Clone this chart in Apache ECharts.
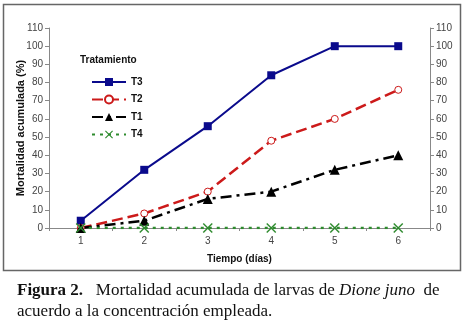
<!DOCTYPE html>
<html>
<head>
<meta charset="utf-8">
<script src="https://cdn.jsdelivr.net/npm/echarts@6/dist/echarts.min.js"></script>
<style>
  html, body { margin: 0; padding: 0; background: #fff; }
  #main { width: 465px; height: 323px; }
</style>
</head>
<body>
<div id="main"></div>
<script>
var dias = ['1', '2', '3', '4', '5', '6'];
var t3 = [4, 32, 56, 84, 100, 100];
var t2 = [0, 8, 20, 48, 60, 76];
var t1 = [0, 4, 16, 20, 32, 40];
var t4 = [0, 0, 0, 0, 0, 0];

var sans = 'Arial, "Liberation Sans", sans-serif';
var serif = '"Times New Roman", "Liberation Serif", serif';
var crossPath = 'path://M0,1L1,0L5,4L9,0L10,1L6,5L10,9L9,10L5,6L1,10L0,9L4,5Z';

var chart = echarts.init(document.getElementById('main'), null, {renderer: 'canvas'});

var yAxisBase = {
    type: 'value',
    min: 0,
    max: 110,
    interval: 10,
    splitLine: { show: false },
    axisLine: { show: true, lineStyle: { color: '#888', width: 1 } },
    axisTick: { show: true, length: 4, lineStyle: { color: '#888' } },
    axisLabel: { color: '#444', fontSize: 10, fontFamily: sans, margin: 6 }
};

var option = {
    animation: false,
    backgroundColor: '#fff',
    grid: { left: 49, right: 35, top: 28, bottom: 95 },
    legend: {
        orient: 'vertical',
        left: 86,
        top: 72,
        itemWidth: 34,
        itemHeight: 10,
        itemGap: 7.5,
        textStyle: { fontFamily: sans, fontSize: 10, fontWeight: 'bold', color: '#111' },
        data: ['T3', 'T2', 'T1', 'T4']
    },
    xAxis: {
        type: 'category',
        data: dias,
        boundaryGap: true,
        axisLine: { lineStyle: { color: '#888', width: 1 } },
        axisTick: { show: true, length: 3, lineStyle: { color: '#888' } },
        axisLabel: { color: '#444', fontSize: 10, fontFamily: sans, margin: 8 },
        name: 'Tiempo (días)',
        nameLocation: 'middle',
        nameGap: 26,
        nameTextStyle: { fontFamily: sans, fontSize: 10, fontWeight: 'bold', color: '#111' }
    },
    yAxis: [
        Object.assign({}, yAxisBase, {
            position: 'left',
            name: 'Mortalidad acumulada (%)',
            nameLocation: 'middle',
            nameGap: 23,
            nameMoveOverlap: false,
            nameTextStyle: { fontFamily: sans, fontSize: 11, fontWeight: 'bold', color: '#111' }
        }),
        Object.assign({}, yAxisBase, { position: 'right' })
    ],
    series: [
        {
            name: 'T3',
            type: 'line',
            data: t3,
            symbol: 'rect',
            symbolSize: 8,
            lineStyle: { color: '#0a0a8c', width: 2 },
            itemStyle: { color: '#0a0a8c' }
        },
        {
            name: 'T2',
            type: 'line',
            data: t2,
            symbol: 'circle',
            symbolSize: 7,
            lineStyle: { color: '#cc1a1a', width: 2.5, type: [11, 5] },
            itemStyle: { color: '#fff', borderColor: '#cc1a1a', borderWidth: 1 }
        },
        {
            name: 'T1',
            type: 'line',
            data: t1,
            symbol: 'triangle',
            symbolSize: 10,
            lineStyle: { color: '#000', width: 2.5, type: [11, 5, 3, 5] },
            itemStyle: { color: '#000' }
        },
        {
            name: 'T4',
            type: 'line',
            data: t4,
            symbol: crossPath,
            symbolSize: 10,
            lineStyle: { color: '#2e8b2e', width: 2.5, type: [3, 5] },
            itemStyle: { color: '#2e8b2e' }
        }
    ],
    graphic: [
        {
            type: 'rect',
            shape: { x: 3.5, y: 4.5, width: 457, height: 266 },
            style: { fill: 'none', stroke: '#666', lineWidth: 1.5 },
            silent: true
        },
        {
            type: 'text',
            left: 80,
            top: 55,
            style: { text: 'Tratamiento', fontFamily: sans, fontSize: 10, fontWeight: 'bold', fill: '#111' }
        },
        {
            type: 'text',
            left: 17,
            top: 282,
            style: {
                text: '{b|Figura 2.}{n|   Mortalidad acumulada de larvas de }{i|Dione juno}{n|  de}',
                rich: {
                    b: { fontFamily: serif, fontSize: 17, fontWeight: 'bold', fill: '#111' },
                    n: { fontFamily: serif, fontSize: 17, fill: '#111' },
                    i: { fontFamily: serif, fontSize: 17, fontStyle: 'italic', fill: '#111' }
                }
            }
        },
        {
            type: 'text',
            left: 17,
            top: 303,
            style: { text: 'acuerdo a la concentración empleada.', fontFamily: serif, fontSize: 17, fill: '#111' }
        }
    ]
};

chart.setOption(option);
</script>
</body>
</html>
